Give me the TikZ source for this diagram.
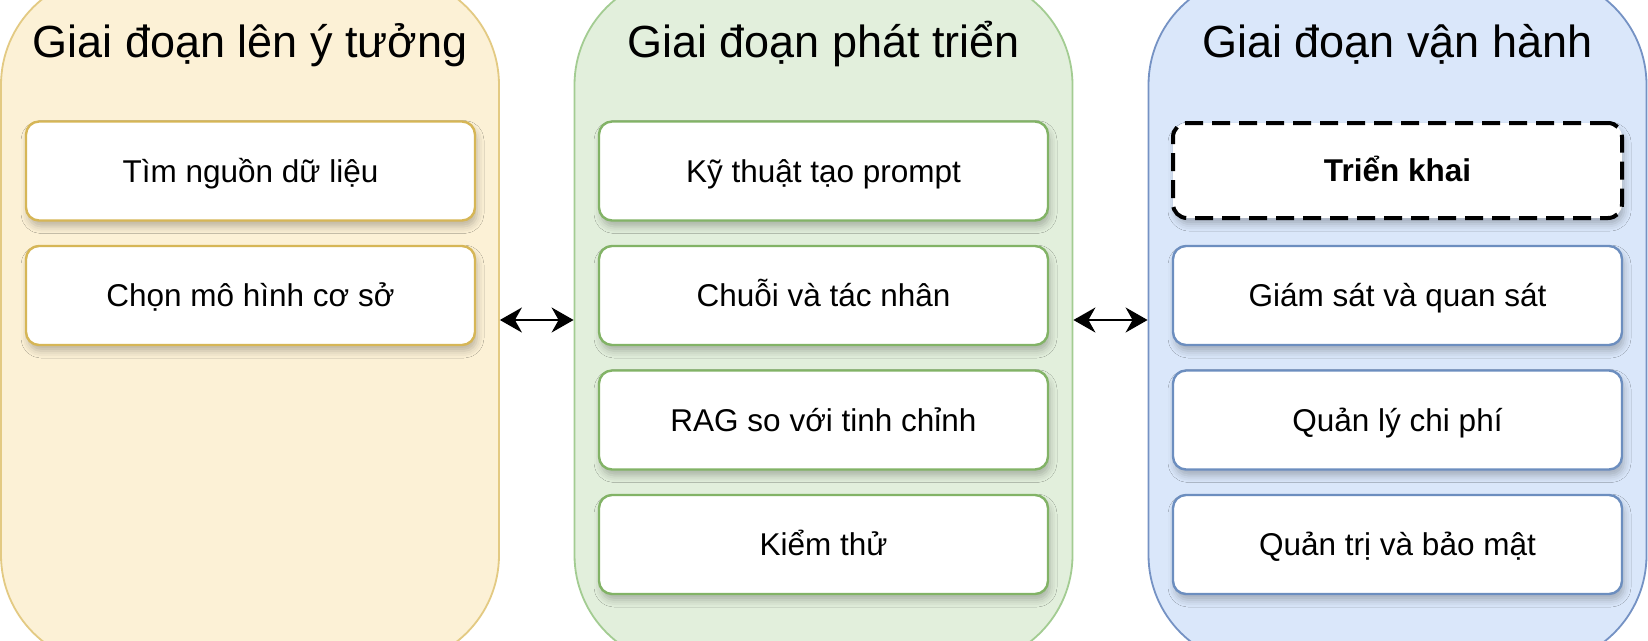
\documentclass[tikz,border=0pt]{standalone}
\usepackage{fontspec}
\setmainfont{Liberation Sans}
\usetikzlibrary{arrows.meta,shadows.blur}
\definecolor{yfill}{HTML}{FCF1D6}
\definecolor{ypan}{HTML}{E3CA83}
\definecolor{ybox}{HTML}{D6B656}
\definecolor{gfill}{HTML}{E2EFDC}
\definecolor{gpan}{HTML}{A3CC92}
\definecolor{gbox}{HTML}{82B366}
\definecolor{bfill}{HTML}{DAE7FA}
\definecolor{bpan}{HTML}{7592C4}
\definecolor{bbox}{HTML}{6C8EBF}
\begin{document}
\begin{tikzpicture}[x=1pt,y=-1pt,
  panel/.style={draw=#1, line width=1.8pt, rounded corners=110pt,
    minimum width=498pt, minimum height=690pt, inner sep=0pt},
  ttl/.style={anchor=base, font=\fontsize{45}{54}\selectfont, inner sep=0pt},
  item/.style={draw=#1, fill=white, line width=2.4pt, rounded corners=13pt,
    minimum width=449pt, minimum height=99pt, inner sep=0pt,
    text height=23pt, text depth=0.5pt,
    font=\fontsize{31.5}{38}\selectfont,
    blur shadow={shadow xshift=2pt, shadow yshift=-6pt, shadow blur radius=7pt, shadow opacity=25}},
  dashitem/.style={draw=black, fill=white, line width=4pt, dash pattern=on 18pt off 9pt,
    rounded corners=14pt, minimum width=449pt, minimum height=95pt, inner sep=0pt,
    text height=23pt, text depth=0.5pt,
    font=\fontsize{31.5}{38}\selectfont\bfseries,
    blur shadow={shadow xshift=2pt, shadow yshift=-6pt, shadow blur radius=7pt, shadow opacity=25}},
  link/.style={line width=2.2pt, {Stealth[length=22pt,width=25pt,inset=7pt]}-{Stealth[length=22pt,width=25pt,inset=7pt]}}
]
\useasboundingbox (0,0) rectangle (1648,640);
\fill[white] (0,0) rectangle (1648,640);

% panels
\node[panel=ypan, fill=yfill] (p1) at (250,320) {};
\node[panel=gpan, fill=gfill] (p2) at (823.5,320) {};
\node[panel=bpan, fill=bfill] (p3) at (1397.5,320) {};

% titles
\node[ttl] (t1) at (250,57.5) {Giai đoạn lên ý tưởng};
\node[ttl] (t2) at (823.5,57.5) {Giai đoạn phát triển};
\node[ttl] (t3) at (1397.5,57.5) {Giai đoạn vận hành};

% left column
\node[item=ybox] (a1) at (250.5,171) {Tìm nguồn dữ liệu};
\node[item=ybox] (a2) at (250.5,295.5) {Chọn mô hình cơ sở};

% middle column
\node[item=gbox] (b1) at (823.5,171) {Kỹ thuật tạo prompt};
\node[item=gbox] (b2) at (823.5,295.5) {Chuỗi và tác nhân};
\node[item=gbox] (b3) at (823.5,420) {RAG so với tinh chỉnh};
\node[item=gbox] (b4) at (823.5,544.5) {Kiểm thử};

% right column
\node[dashitem] (c1) at (1397.5,170.5) {Triển khai};
\node[item=bbox] (c2) at (1397.5,295.5) {Giám sát và quan sát};
\node[item=bbox] (c3) at (1397.5,420) {Quản lý chi phí};
\node[item=bbox] (c4) at (1397.5,544.5) {Quản trị và bảo mật};

% connectors
\draw[link] (p1.east) -- (p2.west);
\draw[link] (p2.east) -- (p3.west);
\end{tikzpicture}
\end{document}
